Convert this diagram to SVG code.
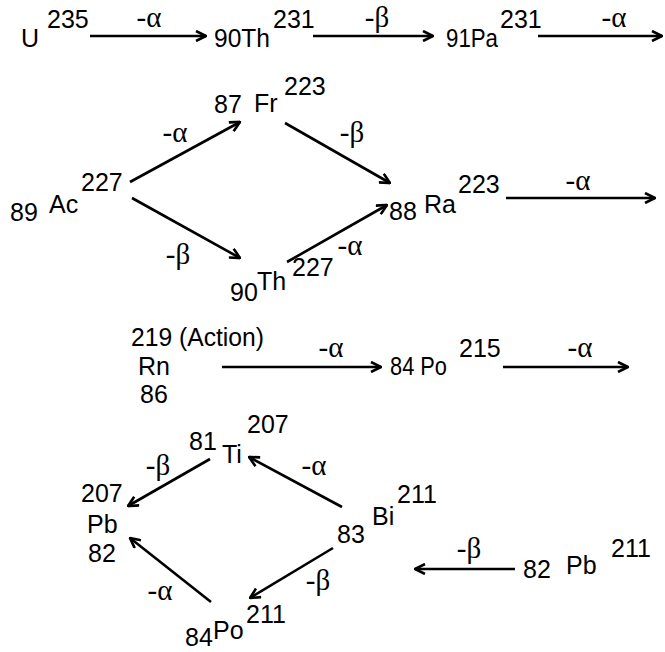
<svg xmlns="http://www.w3.org/2000/svg" width="665" height="652" viewBox="0 0 665 652">
  <style>
    text { font-family: "Liberation Sans", Arial, sans-serif; font-size: 25px; fill: #000; }
    text.g { font-family: "Liberation Serif", "Times New Roman", serif; font-size: 29px; text-anchor: middle; }
    .c line { stroke: #000; stroke-width: 2.6; fill: none; }
  </style>
  <defs>
    <marker id="head" viewBox="0 0 12 12" refX="11" refY="6" markerWidth="12" markerHeight="12" markerUnits="userSpaceOnUse" orient="auto">
      <path d="M1,1 L11,6 L1,11" fill="none" stroke="#000" stroke-width="2.6"/>
    </marker>
  </defs>
  <rect width="665" height="652" fill="#fff"/>

  <!-- decay chain connectors -->
  <g id="connectors" class="c">
    <line x1="90" y1="36" x2="206" y2="36" marker-end="url(#head)"/>
    <line x1="313" y1="36" x2="433" y2="36" marker-end="url(#head)"/>
    <line x1="538" y1="36" x2="662" y2="36" marker-end="url(#head)"/>
    <line x1="130" y1="182" x2="240" y2="122" marker-end="url(#head)"/>
    <line x1="285" y1="123" x2="390" y2="183" marker-end="url(#head)"/>
    <line x1="132" y1="198" x2="240" y2="258" marker-end="url(#head)"/>
    <line x1="287" y1="262" x2="387" y2="205" marker-end="url(#head)"/>
    <line x1="506" y1="198" x2="655" y2="198" marker-end="url(#head)"/>
    <line x1="222" y1="367" x2="381" y2="367" marker-end="url(#head)"/>
    <line x1="503" y1="367" x2="628" y2="367" marker-end="url(#head)"/>
    <line x1="342" y1="507" x2="249" y2="457" marker-end="url(#head)"/>
    <line x1="210" y1="459" x2="128" y2="506" marker-end="url(#head)"/>
    <line x1="333" y1="548" x2="250" y2="598" marker-end="url(#head)"/>
    <line x1="211" y1="602" x2="130" y2="538" marker-end="url(#head)"/>
    <line x1="515" y1="569" x2="415" y2="569" marker-end="url(#head)"/>
  </g>

  <!-- connector labels -->
  <g id="labels">
    <text class="g" x="149" y="27">-α</text>
    <text class="g" x="377" y="27">-β</text>
    <text class="g" x="614" y="27">-α</text>
    <text class="g" x="175" y="142">-α</text>
    <text class="g" x="352" y="142">-β</text>
    <text class="g" x="178" y="264">-β</text>
    <text class="g" x="350" y="255">-α</text>
    <text class="g" x="578" y="190">-α</text>
    <text class="g" x="331" y="357">-α</text>
    <text class="g" x="580" y="357">-α</text>
    <text class="g" x="314" y="475">-α</text>
    <text class="g" x="158" y="475">-β</text>
    <text class="g" x="318" y="590">-β</text>
    <text class="g" x="160" y="600">-α</text>
    <text class="g" x="469" y="558">-β</text>
  </g>

  <g id="u235"><text x="21" y="47">U</text><text x="47" y="28">235</text></g>
  <g id="th231"><text x="214" y="47" textLength="56" lengthAdjust="spacingAndGlyphs">90Th</text><text x="273" y="28">231</text></g>
  <g id="pa231"><text x="446" y="47" textLength="52" lengthAdjust="spacingAndGlyphs">91Pa</text><text x="500" y="28">231</text></g>

  <g id="ac227"><text x="10" y="221">89</text><text x="49" y="213">Ac</text><text x="81" y="191">227</text></g>
  <g id="fr223"><text x="214" y="113">87</text><text x="254" y="112">Fr</text><text x="284" y="95">223</text></g>
  <g id="th227"><text x="230" y="301">90</text><text x="257" y="290">Th</text><text x="292" y="276">227</text></g>
  <g id="ra223"><text x="389" y="220">88</text><text x="424" y="213">Ra</text><text x="458" y="193">223</text></g>

  <g id="rn219"><text x="131" y="346" textLength="133" lengthAdjust="spacingAndGlyphs">219 (Action)</text><text x="138" y="375">Rn</text><text x="140" y="403">86</text></g>
  <g id="po215"><text x="390" y="375" textLength="57" lengthAdjust="spacingAndGlyphs">84 Po</text><text x="459" y="357">215</text></g>

  <g id="ti207"><text x="189" y="450">81</text><text x="222" y="463">Ti</text><text x="247" y="433">207</text></g>
  <g id="pb207"><text x="81" y="502">207</text><text x="87" y="533">Pb</text><text x="88" y="562">82</text></g>
  <g id="bi211"><text x="337" y="543">83</text><text x="372" y="525">Bi</text><text x="397" y="503">211</text></g>
  <g id="po211"><text x="185" y="646">84</text><text x="213" y="639">Po</text><text x="246" y="623">211</text></g>
  <g id="pb211"><text x="523" y="578">82</text><text x="566" y="574">Pb</text><text x="611" y="557">211</text></g>
</svg>
